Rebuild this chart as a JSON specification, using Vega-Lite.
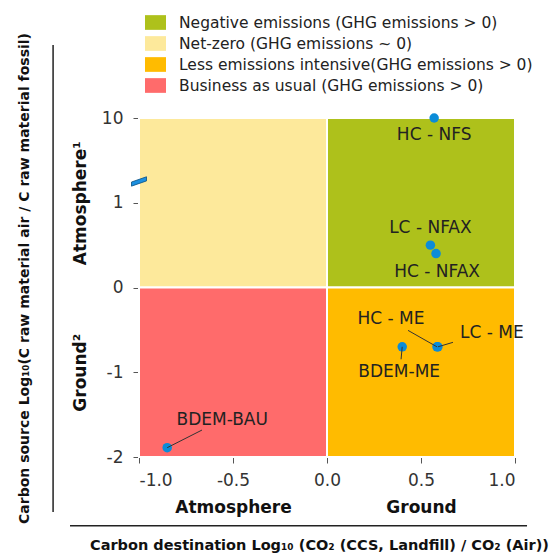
{
  "$schema": "https://vega.github.io/schema/vega-lite/v6.json",
  "width": 376,
  "height": 339,
  "autosize": {"type": "none"},
  "padding": {"left": 139, "top": 118, "right": 44, "bottom": 101},
  "background": "white",
  "config": {"view": {"stroke": "#555", "strokeWidth": 1}, "font": "DejaVu Sans"},
  "datasets": {
    "quadrants": [
      {"x": -1, "x2": 0, "y": 0, "y2": 10, "category": "Net-zero (GHG emissions ~ 0)"},
      {"x": 0, "x2": 1, "y": 0, "y2": 10, "category": "Negative emissions (GHG emissions > 0)"},
      {"x": -1, "x2": 0, "y": -2, "y2": 0, "category": "Business as usual (GHG emissions > 0)"},
      {"x": 0, "x2": 1, "y": -2, "y2": 0, "category": "Less emissions intensive(GHG emissions > 0)"}
    ],
    "cases": [
      {"name": "HC - NFS", "x": 0.57, "y": 10},
      {"name": "LC - NFAX", "x": 0.55, "y": 0.5},
      {"name": "HC - NFAX", "x": 0.58, "y": 0.4},
      {"name": "HC - ME", "x": 0.585, "y": -0.7},
      {"name": "LC - ME", "x": 0.59, "y": -0.7},
      {"name": "BDEM-ME", "x": 0.4, "y": -0.7},
      {"name": "BDEM-BAU", "x": -0.85, "y": -1.89}
    ]
  },
  "layer": [
    {
      "data": {"name": "quadrants"},
      "mark": {"type": "rect", "stroke": "white", "strokeWidth": 2},
      "encoding": {
        "x": {"field": "x", "type": "quantitative", "scale": {"domain": [-1, 1], "nice": false, "zero": false},
          "axis": {"orient": "bottom", "values": [-1, -0.5, 0, 0.5, 1], "format": ".1f", "labelExpr": "replace(datum.label, '−', '-')", "title": null, "grid": false, "domainColor": "#555", "tickColor": "#555", "tickSize": 6, "labelFontSize": 17, "labelColor": "#333", "labelPadding": 9, "labelFontWeight": "normal"}},
        "x2": {"field": "x2"},
        "y": {"field": "y", "type": "quantitative", "scale": {"domain": [-2, 1, 10], "range": [339, 84.75, 0], "nice": false, "zero": false},
          "axis": {"orient": "left", "values": [-2, -1, 0, 1, 10], "format": "d", "labelExpr": "replace(datum.label, '−', '-')", "title": null, "grid": false, "domainColor": "#555", "tickColor": "#555", "tickSize": 6, "labelFontSize": 17, "labelColor": "#333", "labelPadding": 10}},
        "y2": {"field": "y2"},
        "color": {"field": "category", "type": "nominal",
          "scale": {"domain": ["Negative emissions (GHG emissions > 0)", "Net-zero (GHG emissions ~ 0)", "Less emissions intensive(GHG emissions > 0)", "Business as usual (GHG emissions > 0)"],
                    "range": ["#aec11b", "#fde99b", "#ffbb00", "#ff6b6b"]},
          "legend": {"orient": "none", "legendX": 6, "legendY": -106, "title": null, "symbolType": "M-1,-0.7H1V0.7H-1Z", "symbolSize": 441, "symbolStrokeWidth": 0, "symbolOpacity": 1, "labelFontSize": 15.5, "labelLimit": 500, "labelOffset": 13, "rowPadding": 2, "padding": 0, "labelColor": "#222"}}
      }
    },
    {
      "data": {"name": "cases"},
      "mark": {"type": "point", "filled": true, "size": 90, "color": "#0b8cd8", "opacity": 1},
      "encoding": {
        "x": {"field": "x", "type": "quantitative", "scale": {"domain": [-1, 1], "nice": false, "zero": false},
          "axis": {"orient": "bottom", "values": [-0.5, 0.5], "labelExpr": "datum.value < 0 ? 'Atmosphere' : 'Ground'", "ticks": false, "domain": false, "grid": false, "offset": 42, "labelPadding": 0, "labelFontSize": 17, "labelFontWeight": "bold", "labelColor": "#111", "labelBaseline": "top",
            "title": "Carbon destination Log₁₀ (CO₂ (CCS, Landfill) / CO₂ (Air))", "titleFontSize": 14.5, "titleFontWeight": "bold", "titleColor": "#111", "titlePadding": 23, "titleX": 180}},
        "y": {"field": "y", "type": "quantitative", "scale": {"domain": [-2, 1, 10], "range": [339, 84.75, 0], "nice": false, "zero": false},
          "axis": {"orient": "left", "values": [1, -1], "labelExpr": "datum.value > 0 ? 'Atmosphere¹' : 'Ground²'", "labelAngle": -90, "labelAlign": "center", "labelBaseline": "bottom", "ticks": false, "domain": false, "grid": false, "offset": 50, "labelPadding": 0, "labelFontSize": 17, "labelFontWeight": "bold", "labelColor": "#111",
            "title": "Carbon source Log₁₀(C raw material air / C raw material fossil)", "titleFontSize": 14, "titleFontWeight": "bold", "titleColor": "#111", "titlePadding": 40, "titleY": 160}}
      }
    },
    {
      "data": {"name": "cases"},
      "transform": [{"filter": "datum.name == 'HC - NFS'"}],
      "mark": {"type": "text", "dy": 17, "fontSize": 17, "color": "#222"},
      "encoding": {
        "x": {"field": "x", "type": "quantitative", "scale": {"domain": [-1, 1], "nice": false, "zero": false}, "axis": null},
        "y": {"field": "y", "type": "quantitative", "scale": {"domain": [-2, 1, 10], "range": [339, 84.75, 0], "nice": false, "zero": false}, "axis": null},
        "text": {"field": "name"}
      }
    },
    {
      "data": {"name": "cases"},
      "transform": [{"filter": "datum.name == 'LC - NFAX'"}],
      "mark": {"type": "text", "dy": -17, "fontSize": 17, "color": "#222"},
      "encoding": {
        "x": {"field": "x", "type": "quantitative", "scale": {"domain": [-1, 1], "nice": false, "zero": false}, "axis": null},
        "y": {"field": "y", "type": "quantitative", "scale": {"domain": [-2, 1, 10], "range": [339, 84.75, 0], "nice": false, "zero": false}, "axis": null},
        "text": {"field": "name"}
      }
    },
    {
      "data": {"name": "cases"},
      "transform": [{"filter": "datum.name == 'HC - NFAX'"}],
      "mark": {"type": "text", "dx": 1, "dy": 18, "fontSize": 17, "color": "#222"},
      "encoding": {
        "x": {"field": "x", "type": "quantitative", "scale": {"domain": [-1, 1], "nice": false, "zero": false}, "axis": null},
        "y": {"field": "y", "type": "quantitative", "scale": {"domain": [-2, 1, 10], "range": [339, 84.75, 0], "nice": false, "zero": false}, "axis": null},
        "text": {"field": "name"}
      }
    },
    {
      "data": {"name": "cases"},
      "transform": [{"filter": "datum.name == 'HC - ME'"}],
      "mark": {"type": "text", "dx": -46, "dy": -28, "fontSize": 17, "color": "#222"},
      "encoding": {
        "x": {"field": "x", "type": "quantitative", "scale": {"domain": [-1, 1], "nice": false, "zero": false}, "axis": null},
        "y": {"field": "y", "type": "quantitative", "scale": {"domain": [-2, 1, 10], "range": [339, 84.75, 0], "nice": false, "zero": false}, "axis": null},
        "text": {"field": "name"}
      }
    },
    {
      "data": {"name": "cases"},
      "transform": [{"filter": "datum.name == 'LC - ME'"}],
      "mark": {"type": "text", "dx": 54, "dy": -14, "fontSize": 17, "color": "#222"},
      "encoding": {
        "x": {"field": "x", "type": "quantitative", "scale": {"domain": [-1, 1], "nice": false, "zero": false}, "axis": null},
        "y": {"field": "y", "type": "quantitative", "scale": {"domain": [-2, 1, 10], "range": [339, 84.75, 0], "nice": false, "zero": false}, "axis": null},
        "text": {"field": "name"}
      }
    },
    {
      "data": {"name": "cases"},
      "transform": [{"filter": "datum.name == 'BDEM-ME'"}],
      "mark": {"type": "text", "dx": -3, "dy": 25, "fontSize": 17, "color": "#222"},
      "encoding": {
        "x": {"field": "x", "type": "quantitative", "scale": {"domain": [-1, 1], "nice": false, "zero": false}, "axis": null},
        "y": {"field": "y", "type": "quantitative", "scale": {"domain": [-2, 1, 10], "range": [339, 84.75, 0], "nice": false, "zero": false}, "axis": null},
        "text": {"field": "name"}
      }
    },
    {
      "data": {"name": "cases"},
      "transform": [{"filter": "datum.name == 'BDEM-BAU'"}],
      "mark": {"type": "text", "dx": 55, "dy": -28, "fontSize": 17, "color": "#222"},
      "encoding": {
        "x": {"field": "x", "type": "quantitative", "scale": {"domain": [-1, 1], "nice": false, "zero": false}, "axis": null},
        "y": {"field": "y", "type": "quantitative", "scale": {"domain": [-2, 1, 10], "range": [339, 84.75, 0], "nice": false, "zero": false}, "axis": null},
        "text": {"field": "name"}
      }
    },
    {
      "data": {"name": "cases"},
      "transform": [{"filter": "datum.name == 'HC - ME'"}],
      "mark": {"type": "rule", "color": "#333", "strokeWidth": 1},
      "encoding": {
        "x": {"field": "x", "type": "quantitative", "scale": {"domain": [-1, 1], "nice": false, "zero": false}, "axis": null},
        "y": {"field": "y", "type": "quantitative", "scale": {"domain": [-2, 1, 10], "range": [339, 84.75, 0], "nice": false, "zero": false}, "axis": null},
        "x2": {"datum": 0.431},
        "y2": {"datum": -0.506}
      }
    },
    {
      "data": {"name": "cases"},
      "transform": [{"filter": "datum.name == 'LC - ME'"}],
      "mark": {"type": "rule", "color": "#333", "strokeWidth": 1},
      "encoding": {
        "x": {"field": "x", "type": "quantitative", "scale": {"domain": [-1, 1], "nice": false, "zero": false}, "axis": null},
        "y": {"field": "y", "type": "quantitative", "scale": {"domain": [-2, 1, 10], "range": [339, 84.75, 0], "nice": false, "zero": false}, "axis": null},
        "x2": {"datum": 0.67},
        "y2": {"datum": -0.647}
      }
    },
    {
      "data": {"name": "cases"},
      "transform": [{"filter": "datum.name == 'BDEM-ME'"}],
      "mark": {"type": "rule", "color": "#333", "strokeWidth": 1},
      "encoding": {
        "x": {"field": "x", "type": "quantitative", "scale": {"domain": [-1, 1], "nice": false, "zero": false}, "axis": null},
        "y": {"field": "y", "type": "quantitative", "scale": {"domain": [-2, 1, 10], "range": [339, 84.75, 0], "nice": false, "zero": false}, "axis": null},
        "x2": {"datum": 0.394},
        "y2": {"datum": -0.847}
      }
    },
    {
      "data": {"name": "cases"},
      "transform": [{"filter": "datum.name == 'BDEM-BAU'"}],
      "mark": {"type": "rule", "color": "#333", "strokeWidth": 1},
      "encoding": {
        "x": {"field": "x", "type": "quantitative", "scale": {"domain": [-1, 1], "nice": false, "zero": false}, "axis": null},
        "y": {"field": "y", "type": "quantitative", "scale": {"domain": [-2, 1, 10], "range": [339, 84.75, 0], "nice": false, "zero": false}, "axis": null},
        "x2": {"datum": -0.665},
        "y2": {"datum": -1.682}
      }
    },
    {
      "data": {"values": [{}]},
      "mark": {"type": "point", "shape": "M-1,0.25L1,-0.45L1,0.1L-1,0.8Z", "size": 225, "filled": true, "color": "#1a8fe0", "stroke": "#0a4f80", "strokeWidth": 0.8, "opacity": 1},
      "encoding": {
        "x": {"datum": -1, "type": "quantitative", "scale": {"domain": [-1, 1], "nice": false, "zero": false}, "axis": null},
        "y": {"datum": 3.4, "type": "quantitative", "scale": {"domain": [-2, 1, 10], "range": [339, 84.75, 0], "nice": false, "zero": false}, "axis": null}
      }
    },
    {
      "data": {"values": [{}]},
      "mark": {"type": "rule", "color": "#222", "strokeWidth": 1.5, "clip": false},
      "encoding": {
        "x": {"datum": -1.457, "type": "quantitative", "scale": {"domain": [-1, 1], "nice": false, "zero": false}, "axis": null},
        "y": {"datum": 17.75, "type": "quantitative", "scale": {"domain": [-2, 1, 10], "range": [339, 84.75, 0], "nice": false, "zero": false}, "axis": null},
        "y2": {"datum": -2.65}
      }
    },
    {
      "data": {"values": [{}]},
      "mark": {"type": "rule", "color": "#222", "strokeWidth": 1.5, "clip": false},
      "encoding": {
        "x": {"datum": -1.367, "type": "quantitative", "scale": {"domain": [-1, 1], "nice": false, "zero": false}, "axis": null},
        "x2": {"datum": 1.064},
        "y": {"datum": -2.81, "type": "quantitative", "scale": {"domain": [-2, 1, 10], "range": [339, 84.75, 0], "nice": false, "zero": false}, "axis": null}
      }
    }
  ],
  "resolve": {"axis": {"x": "independent", "y": "independent"}}
}
